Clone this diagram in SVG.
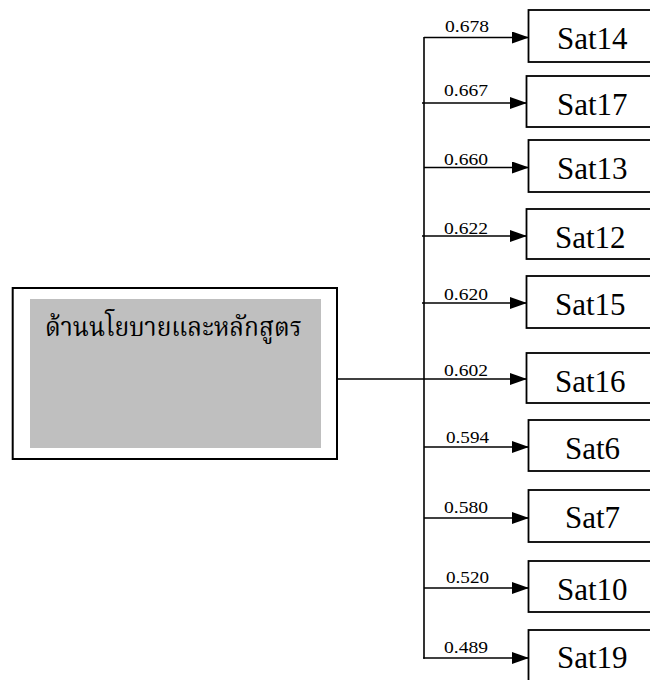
<svg xmlns="http://www.w3.org/2000/svg" width="650" height="680" viewBox="0 0 650 680">
<defs>
<style>
.box{fill:#fff;stroke:#000;stroke-width:1.8}
.sat{font-family:"Liberation Serif","Times New Roman",serif;font-size:31px;fill:#000}
.lbl{font-family:"Liberation Serif","Times New Roman",serif;font-size:17px;fill:#000}
.ln{stroke:#000;stroke-width:1.6;fill:none}
</style>
<marker id="ah" markerWidth="17" markerHeight="12" refX="17" refY="6" orient="auto" markerUnits="userSpaceOnUse">
<path d="M0,0 L17,6 L0,12 Z" fill="#000"/>
</marker>
</defs>
<rect width="650" height="680" fill="#fff"/>
<g id="main">
<rect x="12.7" y="288" width="324.3" height="171" fill="#fff" stroke="#000" stroke-width="2"/>
<rect x="30" y="299" width="291" height="149" fill="#bfbfbf"/>
<text x="45" y="336" font-family="'Liberation Serif','Noto Serif Thai','Noto Sans Thai',serif" font-size="26" textLength="257" lengthAdjust="spacingAndGlyphs">ด้านนโยบายและหลักสูตร</text>
</g>
<g id="connectors">
<line class="ln" x1="337" y1="379" x2="424" y2="379"/>
<line class="ln" x1="424" y1="37" x2="424" y2="658.8"/>
<line class="ln" x1="424" y1="37.5" x2="529" y2="37.5" marker-end="url(#ah)"/>
<line class="ln" x1="422" y1="103" x2="527" y2="103" marker-end="url(#ah)"/>
<line class="ln" x1="424" y1="167.5" x2="529" y2="167.5" marker-end="url(#ah)"/>
<line class="ln" x1="422" y1="236" x2="527" y2="236" marker-end="url(#ah)"/>
<line class="ln" x1="422" y1="303" x2="527" y2="303" marker-end="url(#ah)"/>
<line class="ln" x1="424" y1="379" x2="527" y2="379" marker-end="url(#ah)"/>
<line class="ln" x1="424" y1="447" x2="529" y2="447" marker-end="url(#ah)"/>
<line class="ln" x1="424" y1="518" x2="529" y2="518" marker-end="url(#ah)"/>
<line class="ln" x1="424" y1="588" x2="529" y2="588" marker-end="url(#ah)"/>
<line class="ln" x1="423.2" y1="658" x2="529" y2="658" marker-end="url(#ah)"/>
<text class="lbl" x="445" y="32" textLength="44" lengthAdjust="spacingAndGlyphs">0.678</text>
<text class="lbl" x="444" y="96" textLength="44" lengthAdjust="spacingAndGlyphs">0.667</text>
<text class="lbl" x="444" y="165" textLength="44" lengthAdjust="spacingAndGlyphs">0.660</text>
<text class="lbl" x="444" y="234" textLength="44" lengthAdjust="spacingAndGlyphs">0.622</text>
<text class="lbl" x="444" y="300" textLength="44" lengthAdjust="spacingAndGlyphs">0.620</text>
<text class="lbl" x="444" y="376" textLength="44" lengthAdjust="spacingAndGlyphs">0.602</text>
<text class="lbl" x="446" y="443" textLength="43" lengthAdjust="spacingAndGlyphs">0.594</text>
<text class="lbl" x="444" y="513" textLength="44" lengthAdjust="spacingAndGlyphs">0.580</text>
<text class="lbl" x="446" y="583" textLength="43" lengthAdjust="spacingAndGlyphs">0.520</text>
<text class="lbl" x="444" y="653" textLength="44" lengthAdjust="spacingAndGlyphs">0.489</text>
</g>
<g id="Sat14"><rect class="box" x="528.5" y="10" width="130" height="52"/><text class="sat" x="557" y="49">Sat14</text></g>
<g id="Sat17"><rect class="box" x="526.5" y="76" width="130" height="51"/><text class="sat" x="557" y="115">Sat17</text></g>
<g id="Sat13"><rect class="box" x="528.5" y="140" width="130" height="52"/><text class="sat" x="557" y="179">Sat13</text></g>
<g id="Sat12"><rect class="box" x="526.5" y="209" width="130" height="50"/><text class="sat" x="555" y="248">Sat12</text></g>
<g id="Sat15"><rect class="box" x="526.5" y="276" width="130" height="52"/><text class="sat" x="555" y="315">Sat15</text></g>
<g id="Sat16"><rect class="box" x="526.5" y="353" width="130" height="50"/><text class="sat" x="555" y="392">Sat16</text></g>
<g id="Sat6"><rect class="box" x="528.5" y="420" width="130" height="51"/><text class="sat" x="565" y="459">Sat6</text></g>
<g id="Sat7"><rect class="box" x="528.5" y="490" width="130" height="52"/><text class="sat" x="565" y="528">Sat7</text></g>
<g id="Sat10"><rect class="box" x="528.5" y="561" width="130" height="51"/><text class="sat" x="557" y="600">Sat10</text></g>
<g id="Sat19"><rect class="box" x="528.5" y="630" width="130" height="60"/><text class="sat" x="557" y="668">Sat19</text></g>
</svg>
